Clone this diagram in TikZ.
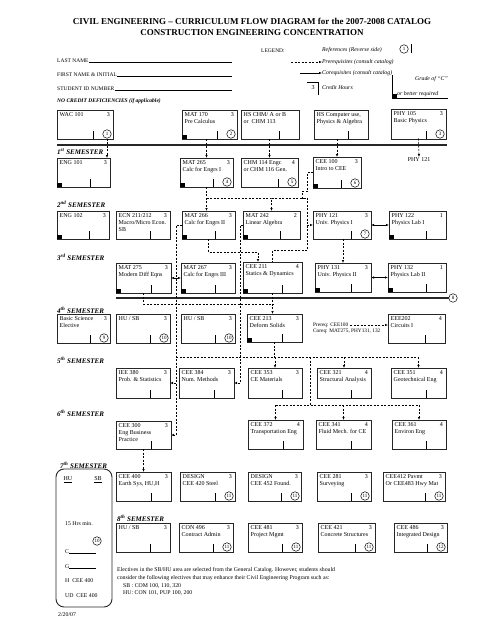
\documentclass[tikz,border=0pt]{standalone}
\usepackage{fontspec}
\setmainfont{Liberation Serif}
\usetikzlibrary{arrows.meta}

\tikzset{
  course/.style={draw=black!85, line width=0.9pt, rectangle, inner sep=0pt, outer sep=0pt, anchor=north west},
  ctext/.style={inner sep=0pt, font=\fontsize{6}{7}\selectfont, align=left},
  tickmark/.style={line width=0.7pt},
  refc/.style={draw, circle, line width=0.5pt, minimum size=8.5pt, inner sep=0pt, font=\fontsize{5}{5}\selectfont},
  prereq/.style={->, dash pattern=on 2pt off 1.5pt, line width=0.6pt},
  dashline/.style={dash pattern=on 2pt off 1.5pt, line width=0.6pt},
  coreq/.style={<->, line width=0.6pt},
  semlabel/.style={anchor=west, inner sep=0pt, font=\fontsize{7}{8}\selectfont\bfseries\itshape},
  rule/.style={line width=1.3pt, black!85},
  formtext/.style={anchor=base west, inner sep=0pt, font=\fontsize{5.5}{6}\selectfont},
  formline/.style={line width=0.6pt},
  legtext/.style={anchor=west, inner sep=0pt, font=\fontsize{5.8}{6}\selectfont\itshape},
  notetext/.style={anchor=west, inner sep=0pt, font=\fontsize{5.8}{7}\selectfont},
  titletext/.style={align=center, inner sep=0pt, font=\fontsize{9}{11}\selectfont\bfseries},
}

% course box: name, x, y, width, height, text, credits
\newcommand{\coursebox}[7]{%
  \node[course, minimum width=#4pt, minimum height=#5pt] (#1) at (#2,#3) {};
  \node[ctext, anchor=north west] (#1-name) at ([xshift=2.5pt,yshift=-2.5pt]#1.north west) {#6};
  \node[ctext, anchor=north east] (#1-cr) at ([xshift=-3pt,yshift=-2.5pt]#1.north east) {#7};
  \draw[tickmark] ([xshift=-20pt]#1.south east) -- ++(0pt,8pt);
}
% black corner = grade of C or better
\newcommand{\gradebox}[1]{\fill ([xshift=0.4pt,yshift=0.4pt]#1.south west) rectangle ++(4.5pt,3.5pt);}
% circled reference number
\newcommand{\refmark}[3]{\node[refc] (#1) at ([xshift=-6pt,yshift=5pt]#2.south east) {#3};}

\begin{document}
\begin{tikzpicture}[x=1pt, y=-1pt, >={Latex[length=3pt,width=2.4pt]}]
  \useasboundingbox[fill=white] (0,0) rectangle (495,640);

  % Title
  \node[titletext] (title) at (252,27) {CIVIL ENGINEERING -- CURRICULUM FLOW DIAGRAM for the 2007-2008 CATALOG\\CONSTRUCTION ENGINEERING CONCENTRATION};

  % Student form
  \coordinate (formend) at (232,0);
  \node[formtext] (lname) at (57,62) {LAST NAME};
  \draw[formline] (lname.base east) -- (lname.base east -| formend);
  \node[formtext] (fname) at (57,76) {FIRST NAME \& INITIAL};
  \draw[formline] (fname.base east) -- (fname.base east -| formend);
  \node[formtext] (sid) at (57,90) {STUDENT ID NUMBER};
  \draw[formline] (sid.base east) -- (sid.base east -| formend);
  \node[formtext, font=\fontsize{5.5}{6}\selectfont\bfseries\itshape] (ncd) at (57,102) {NO CREDIT DEFICIENCIES (if applicable)};

  % Legend
  \node[formtext] (legend) at (261,52) {LEGEND:};
  \node[legtext] (lgref) at (322,50) {References (Reverse side)};
  \node[refc] (lgcirc) at (404,49) {1};
  \draw[tickmark] (411,44) -- (411,53);
  \node[legtext] (lgpre) at (322,62) {Prerequisites (consult catalog)};
  \draw[prereq] ([xshift=-31pt]lgpre.west) -- (lgpre.west);
  \node[legtext] (lgco) at (322,73) {Corequisites (consult catalog)};
  \draw[->, line width=0.6pt] ([xshift=-22pt]lgco.west) -- (lgco.west);
  \node[ctext] (lgthree) at (313,88) {3};
  \draw[line width=0.8pt] (307,82) -- (318,82) -- (318,95);
  \node[legtext] (lgch) at (322,88) {Credit Hours};
  \node[legtext] (lggr) at (415,79) {Grade of ``C''};
  \node[legtext] (lgbet) at (397,94) {or better required};
  \draw[line width=0.8pt] (392,75) -- (392,98) -- (448,98);
  \fill (392,98) rectangle (397,94);

  % Before first semester
  \coursebox{wac}{57}{110}{56}{29}{WAC 101}{3}
  \refmark{wac-r}{wac}{1}
  \coursebox{mat170}{182}{110}{55}{29}{MAT 170\\Pre Calculus}{3}
  \gradebox{mat170} \refmark{mat170-r}{mat170}{2}
  \coursebox{hschm}{241}{110}{58}{29}{HS CHM/ A or B\\or\ \ CHM 113}{}
  \coursebox{hscomp}{314}{110}{54}{29}{HS Computer use,\\Physics \& Algebra}{}
  \coursebox{phy105}{391}{109}{55}{30}{PHY 105\\Basic Physics}{3}
  \refmark{phy105-r}{phy105}{3}
  \draw[rule] (57,145) -- (447,145);

  % 1st semester
  \node[semlabel] (sem1) at (57,152) {1\textsuperscript{st} SEMESTER};
  \coursebox{eng101}{57}{158}{53}{29}{ENG 101}{3}
  \gradebox{eng101}
  \coursebox{mat265}{180}{158}{53}{29}{MAT 265\\Calc for Engrs I}{3}
  \gradebox{mat265} \refmark{mat265-r}{mat265}{4}
  \coursebox{chm114}{241}{158}{57}{29}{CHM 114 Engr.\\or CHM 116 Gen.}{4}
  \refmark{chm114-r}{chm114}{5}
  \coursebox{cee100}{313}{157}{48}{31}{CEE 100\\Intro to CEE}{3}
  \gradebox{cee100} \refmark{cee100-r}{cee100}{6}
  \node[ctext, anchor=north] (p121t) at (419,157) {PHY 121};

  % 2nd semester
  \node[semlabel] (sem2) at (57,204) {2\textsuperscript{nd} SEMESTER};
  \coursebox{eng102}{57}{211}{52}{28}{ENG 102}{3}
  \gradebox{eng102}
  \coursebox{ecn}{116}{211}{54}{28}{ECN 211/212\\Macro/Micro Econ.\\SB}{3}
  \coursebox{mat266}{182}{211}{53}{28}{MAT 266\\Calc for Engrs II}{3}
  \gradebox{mat266}
  \coursebox{mat242}{243}{211}{57}{28}{MAT 242\\Linear Algebra}{2}
  \gradebox{mat242}
  \coursebox{phy121}{313}{211}{58}{28}{PHY 121\\Univ. Physics I}{3}
  \refmark{phy121-r}{phy121}{7}
  \coursebox{phy122}{389}{211}{57}{28}{PHY 122\\Physics Lab I}{1}
  \gradebox{phy122}

  % 3rd semester
  \node[semlabel] (sem3) at (57,257) {3\textsuperscript{rd} SEMESTER};
  \coursebox{mat275}{116}{263}{55}{30}{MAT 275\\Modern Diff Eqns}{3}
  \gradebox{mat275}
  \coursebox{mat267}{181}{263}{54}{30}{MAT 267\\Calc for Engrs III}{3}
  \gradebox{mat267}
  \coursebox{cee211}{243}{262}{59}{31}{CEE 211\\Statics \& Dynamics}{4}
  \gradebox{cee211}
  \coursebox{phy131}{315}{263}{56}{29}{PHY 131\\Univ. Physics II}{3}
  \gradebox{phy131}
  \coursebox{phy132}{388}{263}{58}{29}{PHY 132\\Physics Lab II}{1}
  \gradebox{phy132}
  \node[refc] (ref8) at (453,298) {8};
  \draw[rule] (116,298) -- (ref8.west);

  % 4th semester
  \node[semlabel] (sem4) at (57,310) {4\textsuperscript{th} SEMESTER};
  \coursebox{bse}{57}{314}{53}{29}{Basic Science\\Elective}{3}
  \refmark{bse-r}{bse}{9}
  \coursebox{husb1}{116}{314}{54}{29}{HU / SB}{3}
  \refmark{husb1-r}{husb1}{10}
  \coursebox{husb2}{181}{314}{54}{29}{HU / SB}{3}
  \refmark{husb2-r}{husb2}{10}
  \coursebox{cee213}{247}{314}{55}{28}{CEE 213\\Deform Solids}{3}
  \gradebox{cee213}
  \coursebox{eee202}{388}{314}{57}{29}{EEE202\\Circuits I}{4}
  \node[notetext, font=\fontsize{5.3}{6}\selectfont] (preq) at (313,325) {Prereq: CEE100};
  \node[notetext, font=\fontsize{5.3}{6}\selectfont] (coq) at (313,331) {Coreq: MAT275, PHY131, 132};
  \draw[prereq] ([xshift=2pt]preq.east) -- (preq.east -| eee202.west);

  % 5th semester
  \node[semlabel] (sem5) at (57,360) {5\textsuperscript{th} SEMESTER};
  \coursebox{iee380}{116}{368}{54}{30}{IEE 380\\Prob. \& Statistics}{3}
  \coursebox{cee384}{179}{368}{55}{30}{CEE 384\\Num. Methods}{3}
  \coursebox{cee353}{248}{368}{54}{30}{CEE 353\\CE Materials}{3}
  \coursebox{cee321}{317}{368}{54}{30}{CEE 321\\Structural Analysis}{4}
  \coursebox{cee351}{391}{368}{55}{30}{CEE 351\\Geotechnical Eng}{4}

  % 6th semester
  \node[semlabel] (sem6) at (57,413) {6\textsuperscript{th} SEMESTER};
  \coursebox{cee300}{116}{421}{55}{28}{CEE 300\\Eng Business\\Practice}{3}
  \coursebox{cee372}{248}{420}{55}{29}{CEE 372\\Transportation Eng}{4}
  \coursebox{cee341}{316}{420}{55}{29}{CEE 341\\Fluid Mech. for CE}{4}
  \coursebox{cee361}{392}{420}{54}{29}{CEE 361\\Environ Eng}{4}

  % 7th semester
  \node[semlabel] (sem7) at (60,465) {7\textsuperscript{th} SEMESTER};
  \coursebox{cee400}{116}{472}{55}{29}{CEE 400\\Earth Sys, HU,H}{3}
  \coursebox{des420}{180}{472}{55}{29}{DESIGN\\CEE 420 Steel}{3}
  \refmark{des420-r}{des420}{11}
  \coursebox{des452}{248}{472}{53}{29}{DESIGN\\CEE 452 Found.}{3}
  \refmark{des452-r}{des452}{11}
  \coursebox{cee281}{317}{472}{54}{29}{CEE 281\\Surveying}{3}
  \refmark{cee281-r}{cee281}{11}
  \coursebox{cee412}{383}{472}{62}{29}{CEE412 Pavmt\\Or CEE483 Hwy Mat}{3}
  \refmark{cee412-r}{cee412}{11}

  % 8th semester
  \node[semlabel] (sem8) at (117,518) {8\textsuperscript{th} SEMESTER};
  \coursebox{husb3}{116}{523}{54}{29}{HU / SB}{3}
  \coursebox{con496}{179}{523}{54}{29}{CON 496\\Contract Admin}{3}
  \refmark{con496-r}{con496}{11}
  \coursebox{cee481}{248}{523}{54}{29}{CEE 481\\Project Mgmt}{3}
  \refmark{cee481-r}{cee481}{11}
  \coursebox{cee421}{318}{523}{57}{29}{CEE 421\\Concrete Structures}{3}
  \refmark{cee421-r}{cee421}{11}
  \coursebox{cee486}{394}{523}{53}{29}{CEE 486\\Integrated Design}{3}
  \refmark{cee486-r}{cee486}{12}

  % HU / SB tally box
  \node[course, rounded corners=8pt, minimum width=56pt, minimum height=138pt] (hubox) at (56,469) {};
  \node[ctext] (huhead) at (68,480) {\underline{HU}};
  \node[ctext] (sbhead) at (98,480) {\underline{SB}};
  \node[notetext] (hrs) at (65,524) {15 Hrs min.};
  \node[refc] (hubox-r) at (97,541) {10};
  \node[notetext] (cline) at (65,552) {C\rule{27pt}{0.4pt}};
  \node[notetext] (gline) at (65,567) {G\rule{27pt}{0.4pt}};
  \node[notetext] (hline) at (65,581) {H\ \ CEE 400};
  \node[notetext] (udline) at (65,596) {UD\ \ CEE 400};

  % Electives note and date
  \node[notetext] (el1) at (117,570) {Electives in the SB/HU area are selected from the General Catalog. However, students should};
  \node[notetext] (el2) at (117,578) {consider the following electives that may enhance their Civil Engineering Program such as:};
  \node[notetext] (el3) at (123,586) {SB : COM 100, 110, 320};
  \node[notetext] (el4) at (123,593) {HU: CON 101, PUP 100, 200};
  \node[notetext] (date) at (58,615) {2/20/07};

  % Waypoints of the dashed buses
  \coordinate (busA) at (307,198);
  \coordinate (busB) at (307,250);
  \coordinate (busC) at (258,252);
  \coordinate (busE) at (273,304);
  \coordinate (busF) at (176,357);
  \coordinate (busG) at (310,357);
  \coordinate (busH) at (310,405);

  % Prerequisites into 1st semester
  \draw[prereq] (wac-r.south) -- (wac-r.south |- eng101.north);
  \draw[prereq] (mat170.south -| mat265.north) -- (mat265.north);
  \draw[prereq] (hschm.south -| chm114.north) -- (chm114.north);
  \draw[prereq] (hscomp.south -| cee100.north) -- (cee100.north);
  \draw[prereq] (phy105-r.south -| phy105.south) -- (p121t.north);

  % Prerequisites into 2nd and 3rd semester
  \draw[prereq] (mat265.south) -- (mat265.south |- mat266.north);
  \draw[prereq] (mat265.south |- busA) -| (mat242.north);
  \draw[dashline] (mat242.north |- busA) -- (busA) -- (busB) -| (cee211.north);
  \draw[dashline] (cee100.west) -- ++(-6,0) -- ++(0,19) -- ++(-5,0) |- (busA);
  \draw[prereq] (busA |- phy121.west) -- (phy121.west);
  \draw[prereq] (phy121.south -| phy131.north) -- (phy131.north);
  \draw[prereq] (mat266.south) |- (busC) -- (busC |- cee211.north);
  \draw[prereq] (mat266.west) -- ++(-6,0) |- (iee380.east);
  \draw[prereq] (mat266.west) -- ++(-6,0) |- (cee300.east);
  \draw[prereq] (mat242.west) -- ++(-3,0) |- (cee384.east);

  % Corequisites
  \draw[coreq] (phy121.east) -- (phy122.west);
  \draw[coreq] (phy131.east) -- (phy132.west);
  \draw[coreq] (mat275.east) -- (mat267.west);

  % Prerequisites into 4th to 7th semester
  \draw[dashline] (mat275.south) |- (busE);
  \draw[prereq] (cee211.south) -- (cee211.south |- cee213.north);
  \draw[dashline] (cee213.south) -- (cee213.south |- busF);
  \draw[dashline] (busF) -- (busF -| cee351.north);
  \foreach \c in {cee353,cee321,cee351}
    \draw[prereq] (busF -| \c.north) -- (\c.north);
  \draw[dashline] (busG) -- (busH);
  \draw[dashline] (busH -| cee372.north) -- (busH -| cee361.north);
  \foreach \c in {cee372,cee341,cee361}
    \draw[prereq] (busH -| \c.north) -- (\c.north);
  \draw[prereq] (cee300.south) -- (cee300.south |- cee400.north);
\end{tikzpicture}
\end{document}
